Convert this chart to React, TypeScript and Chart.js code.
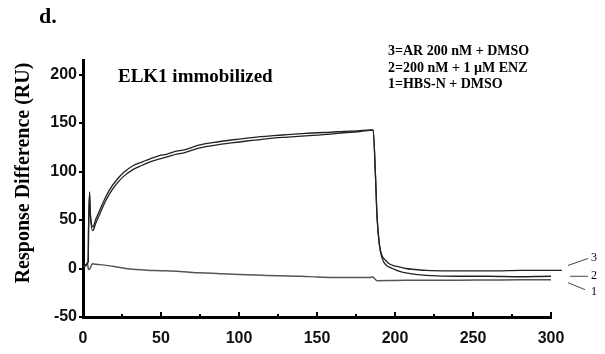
import React, { useEffect, useRef } from 'react';
import { Chart, registerables } from 'chart.js';
Chart.register(...registerables);

// ---- data (time in s, response in RU) ----
const time3 = [0, 2, 3.3, 3.6, 4.2, 4.6, 6.5, 8, 10.7, 14, 17, 21.4, 26, 32, 38, 43, 48, 54, 60, 64, 70, 75, 84, 95, 105, 114, 122, 131, 140, 150, 159, 167, 176, 184.5, 186, 187.5, 188.5, 190, 191.5, 194, 196, 199, 202.5, 207, 213, 220, 235, 250, 265, 280, 295, 307];
const resp3 = [2, 4, 7, 45, 79, 60, 43, 50, 60, 72, 81, 91, 99, 106, 110, 113, 116, 118, 121, 122, 125, 127.5, 130, 132.5, 134.5, 136, 137, 138, 139, 140, 140.5, 141.5, 142, 143, 143, 95, 53, 25, 14, 8.5, 5.2, 3, 1.7, 0, -1, -2, -2.5, -2.5, -2.5, -2, -2, -2];

const time2 = [0, 2, 3.3, 3.6, 4.2, 4.6, 6.3, 8, 10.7, 14, 17, 21.4, 26, 32, 38, 43, 48, 54, 60, 64, 70, 75, 84, 95, 105, 114, 122, 131, 140, 150, 159, 167, 176, 184.5, 186, 187.5, 188.5, 190, 191.5, 193, 195, 198.4, 203, 207, 213, 220, 240, 260, 280, 300, 307];
const resp2 = [2, 4, 7, 44, 77, 58, 39, 46, 56, 68, 77, 87, 95, 102, 106.5, 110, 112.5, 115, 118, 119, 122, 124.5, 127, 129.5, 131.5, 133, 134.5, 135.5, 136.5, 137.5, 138.5, 140, 141, 142.5, 142.5, 95, 53, 24, 12, 6, 2.5, 0, -3, -4.5, -6, -7, -8, -8, -8.5, -8, -8];

const time1 = [0, 2, 2.8, 3.5, 4.5, 6, 8, 11, 20, 30, 41, 50, 62, 75, 88, 100, 115, 125, 140, 150, 161, 175, 184, 185.5, 188.5, 200, 220, 240, 260, 280, 300, 307];
const resp1 = [2, 3, 6, -1, 0, 5, 4.5, 4, 2, -0.5, -1.7, -2.2, -3, -4.5, -5.3, -6.2, -7, -7.5, -8, -8.7, -9.2, -9.3, -9.3, -8.6, -12.5, -12.3, -12, -12, -11.8, -11.6, -11.5, -11.5];

const seriesLabels = ['3', '2', '1'];
const legendLines = ['3=AR 200 nM + DMSO', '2=200 nM + 1 \u00b5M ENZ', '1=HBS-N + DMSO'];
const panelLabel = 'd.';
const chartNote = 'ELK1 immobilized';
const yTitle = 'Response Difference (RU)';
const xMin = 0, xMax = 300, xStep = 50;
const yMin = -50, yMax = 215, yStep = 50;

const SERIF = '"Liberation Serif", "Times New Roman", serif';
const SANS = '"Liberation Sans", Arial, sans-serif';

const toPts = (t: number[], r: number[]) => t.map((x, i) => ({ x, y: r[i] }));

const decorPlugin = {
  id: 'decor',
  afterDraw(chart: any) {
    const { ctx, chartArea, scales } = chart;
    const xs = scales.x, ys = scales.y;
    ctx.save();
    // x-axis inner tick marks
    ctx.strokeStyle = '#000';
    ctx.lineWidth = 2;
    for (let v = xMin; v <= xMax; v += 25) {
      const px = Math.round(xs.getPixelForValue(v));
      const len = v % 50 === 0 ? 5 : 3;
      ctx.beginPath();
      ctx.moveTo(px, chartArea.bottom);
      ctx.lineTo(px, chartArea.bottom - len);
      ctx.stroke();
    }
    // panel label
    ctx.fillStyle = '#000';
    ctx.textBaseline = 'alphabetic';
    ctx.textAlign = 'left';
    ctx.font = `bold 22px ${SERIF}`;
    ctx.fillText(panelLabel, 39, 23);
    // note
    ctx.font = `bold 19px ${SERIF}`;
    ctx.fillText(chartNote, 118, 82);
    // legend
    ctx.font = `bold 14px ${SERIF}`;
    legendLines.forEach((s, i) => ctx.fillText(s, 388, 55 + i * 16.5));
    // y title
    ctx.save();
    ctx.translate(29, 173);
    ctx.rotate(-Math.PI / 2);
    ctx.textAlign = 'center';
    ctx.font = `bold 20px ${SERIF}`;
    ctx.fillText(yTitle, 0, 0);
    ctx.restore();
    // end-of-trace labels
    const ends = [resp3[resp3.length - 1], resp2[resp2.length - 1], resp1[resp1.length - 1]];
    const x0 = chartArea.right;
    ctx.strokeStyle = '#444';
    ctx.lineWidth = 1;
    ctx.font = `12px ${SERIF}`;
    ctx.textBaseline = 'middle';
    const e3 = ys.getPixelForValue(ends[0]);
    const e2 = ys.getPixelForValue(ends[1]);
    const e1 = ys.getPixelForValue(ends[2]);
    const segs = [
      [x0 + 17, e3 - 5, x0 + 37, e3 - 12, e3 - 13],
      [x0 + 19, e2, x0 + 37, e2, e2],
      [x0 + 17, e1 + 3, x0 + 34, e1 + 10, e1 + 12],
    ];
    segs.forEach((s, i) => {
      ctx.beginPath();
      ctx.moveTo(s[0], s[1]);
      ctx.lineTo(s[2], s[3]);
      ctx.stroke();
      ctx.fillText(seriesLabels[i], x0 + 40, s[4]);
    });
    ctx.restore();
  },
};

export default function App() {
  const ref = useRef<HTMLCanvasElement>(null);
  useEffect(() => {
    if (!ref.current) return;
    const chart = new Chart(ref.current, {
      type: 'line',
      data: {
        datasets: [
          { label: seriesLabels[0], data: toPts(time3, resp3), borderColor: '#222', borderWidth: 1.3, pointRadius: 0, cubicInterpolationMode: 'monotone', clip: false },
          { label: seriesLabels[1], data: toPts(time2, resp2), borderColor: '#222', borderWidth: 1.3, pointRadius: 0, cubicInterpolationMode: 'monotone', clip: false },
          { label: seriesLabels[2], data: toPts(time1, resp1), borderColor: '#555', borderWidth: 1.5, pointRadius: 0, cubicInterpolationMode: 'monotone', clip: false },
        ],
      } as any,
      options: {
        animation: false,
        responsive: false,
        devicePixelRatio: 1,
        layout: { padding: { left: 0, top: 60, right: 54, bottom: 0 } },
        plugins: { legend: { display: false }, tooltip: { enabled: false } },
        scales: {
          x: {
            type: 'linear',
            min: xMin,
            max: xMax,
            ticks: { stepSize: xStep, color: '#111', font: { family: SANS, size: 16, weight: 'bold' }, padding: 12, maxRotation: 0 },
            grid: { display: true, drawOnChartArea: false, drawTicks: false, color: '#000' },
            border: { display: true, color: '#000', width: 3 },
            afterFit: (s: any) => { s.height = 37; },
          },
          y: {
            min: yMin,
            max: yMax,
            ticks: { stepSize: yStep, includeBounds: false, color: '#111', font: { family: SANS, size: 16, weight: 'bold' }, padding: 2 },
            afterBuildTicks: (s: any) => { s.ticks = s.ticks.filter((t: any) => t.value % yStep === 0); },
            grid: { display: true, drawOnChartArea: false, drawTicks: true, tickLength: 4, color: '#000', lineWidth: 2 },
            border: { display: true, color: '#000', width: 3 },
            afterFit: (s: any) => { s.width = 83; },
          },
        },
      } as any,
      plugins: [decorPlugin],
    });
    return () => chart.destroy();
  }, []);
  return (
    <div style={{ position: 'fixed', left: 0, top: 0, width: 605, height: 354, background: '#fff' }}>
      <canvas ref={ref} width={605} height={354} style={{ display: 'block' }} />
    </div>
  );
}
